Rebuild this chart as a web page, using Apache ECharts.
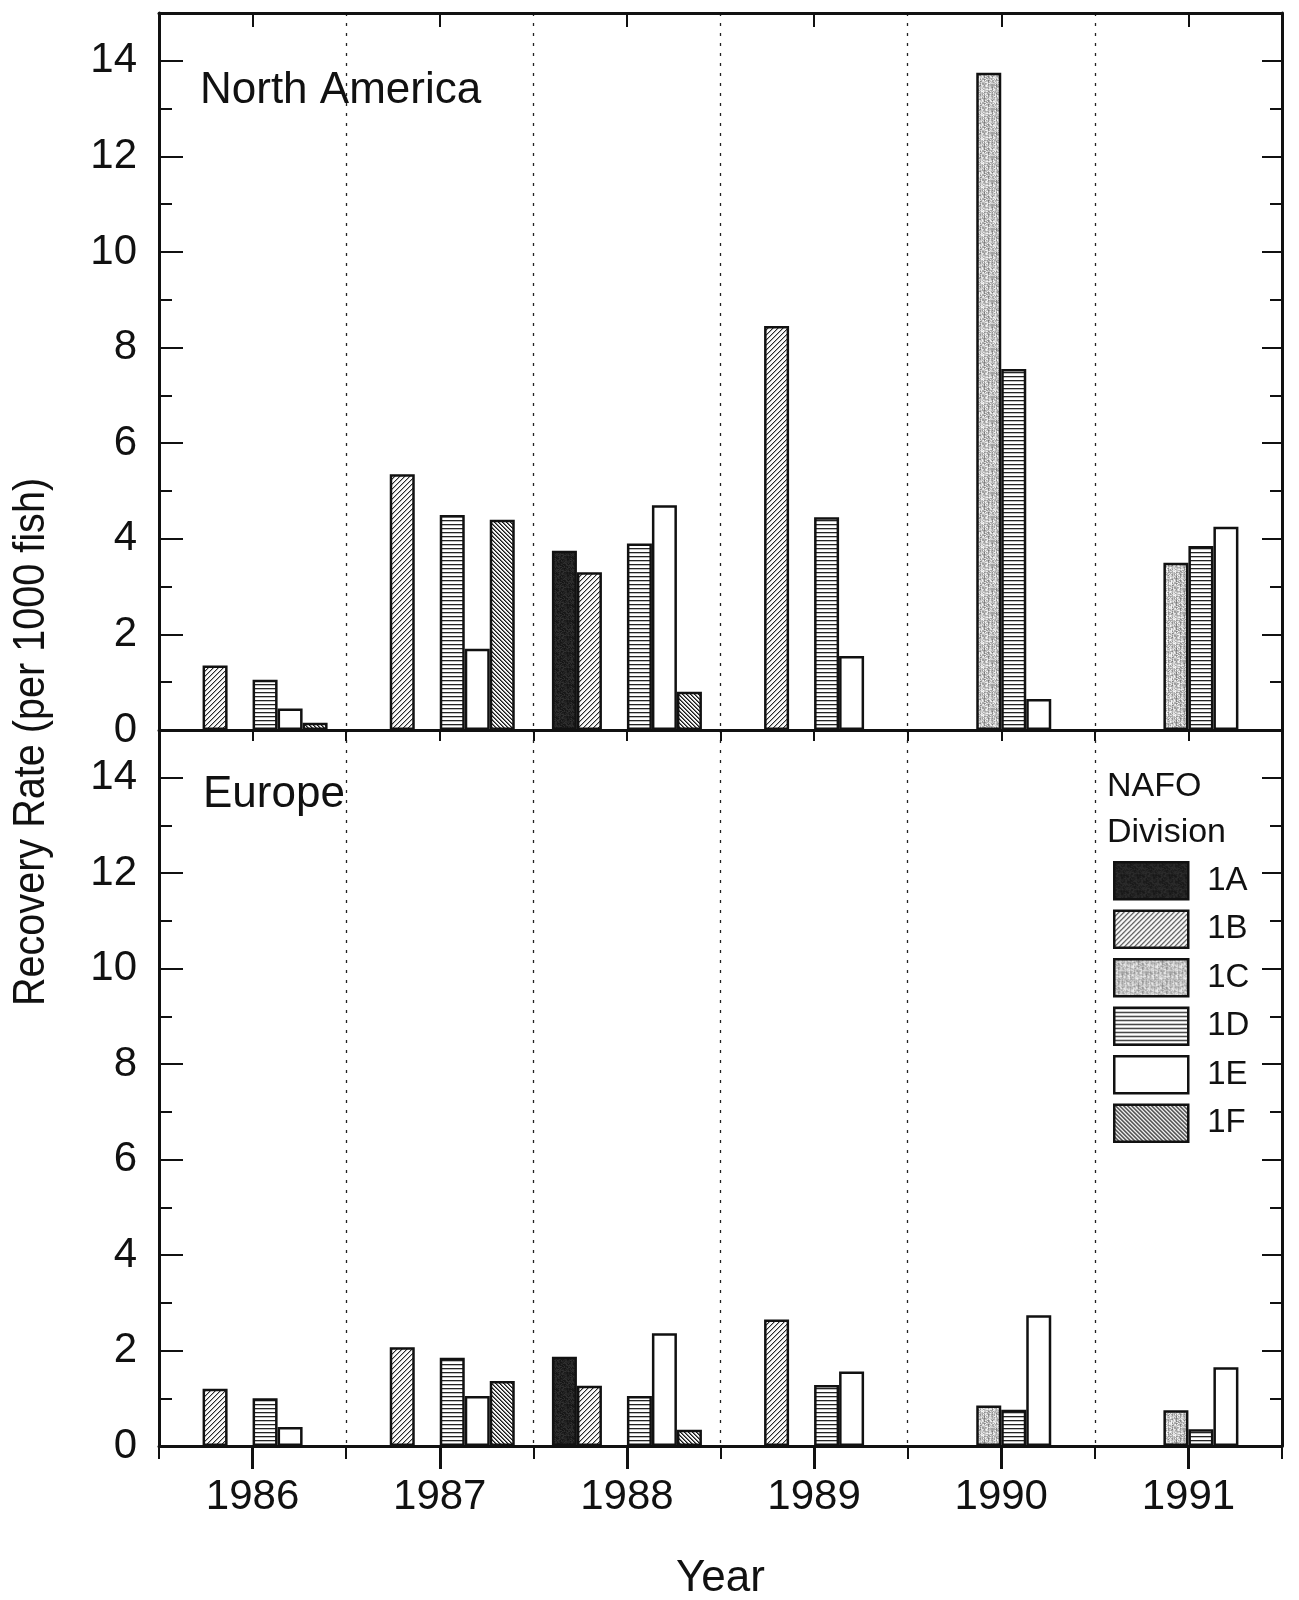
<!DOCTYPE html>
<html>
<head>
<meta charset="utf-8">
<script src="https://cdn.jsdelivr.net/npm/echarts@6/dist/echarts.min.js"></script>
<style>
  html, body { margin: 0; padding: 0; background: #fff; }
  #chart { width: 1299px; height: 1600px; }
</style>
</head>
<body>
<div id="chart"></div>
<script>
// ---- data: recovery rate (per 1000 fish) by year and NAFO division; '-' = none
const years = ['1986', '1987', '1988', '1989', '1990', '1991'];
const divisions = ['1A', '1B', '1C', '1D', '1E', '1F'];

const northAmerica1A = ['-', '-', 3.75, '-', '-', '-'];
const northAmerica1B = [1.35, 5.35, 3.3, 8.45, '-', '-'];
const northAmerica1C = ['-', '-', '-', '-', 13.75, 3.5];
const northAmerica1D = [1.05, 4.5, 3.9, 4.45, 7.55, 3.85];
const northAmerica1E = [0.45, 1.7, 4.7, 1.55, 0.65, 4.25];
const northAmerica1F = [0.15, 4.4, 0.8, '-', '-', '-'];

const europe1A = ['-', '-', 1.87, '-', '-', '-'];
const europe1B = [1.2, 2.07, 1.26, 2.65, '-', '-'];
const europe1C = ['-', '-', '-', '-', 0.85, 0.75];
const europe1D = [1.0, 1.85, 1.05, 1.28, 0.76, 0.35];
const europe1E = [0.4, 1.05, 2.36, 1.56, 2.74, 1.65];
const europe1F = ['-', 1.36, 0.34, '-', '-', '-'];

const yMin = 0;
const yMax = 15;
const yLabelStep = 2;

const panels = [
  { title: 'North America', values: [northAmerica1A, northAmerica1B, northAmerica1C, northAmerica1D, northAmerica1E, northAmerica1F] },
  { title: 'Europe', values: [europe1A, europe1B, europe1C, europe1D, europe1E, europe1F] }
];

// ---- fill patterns (small pixel tiles repeated inside each bar)
const INK = '#111';
const FONT = '"Liberation Sans", Arial, Helvetica, sans-serif';

function pixelTile(w, h, shade) {
  const c = document.createElement('canvas');
  c.width = w; c.height = h;
  const ctx = c.getContext('2d');
  const img = ctx.createImageData(w, h);
  for (let y = 0; y < h; y++) {
    for (let x = 0; x < w; x++) {
      const v = shade(x, y);
      const i = (y * w + x) * 4;
      img.data[i] = v; img.data[i + 1] = v; img.data[i + 2] = v; img.data[i + 3] = 255;
    }
  }
  ctx.putImageData(img, 0, 0);
  return { image: c, repeat: 'repeat' };
}
function grain(x, y) {
  const s = Math.sin(x * 12.9898 + y * 78.233) * 43758.5453;
  return s - Math.floor(s);
}
const fills = {
  '1A': pixelTile(16, 16, (x, y) => 20 + Math.round(grain(x, y) * 30)),
  '1B': pixelTile(5, 5, (x, y) => { const k = (x + y) % 5; return k === 0 ? 40 : (k === 1 ? 175 : 250); }),
  '1C': pixelTile(24, 24, (x, y) => {
    const n = grain(x, y);
    const streak = (x % 4 === 0) ? -35 : 0;
    return Math.max(90, Math.min(245, Math.round(155 + n * 95 + streak)));
  }),
  '1D': pixelTile(4, 4, (x, y) => (y === 0 ? 35 : (y === 1 ? 190 : 255))),
  '1E': '#ffffff',
  '1F': pixelTile(4, 4, (x, y) => { const k = (x - y + 8) % 4; return k === 0 ? 25 : (k === 1 ? 110 : 245); })
};

// ---- axes
function yAxesFor(grid) {
  const base = { type: 'value', gridIndex: grid, min: yMin, max: yMax, splitLine: { show: false } };
  const tickStyle = { color: INK, width: 2 };
  return [
    Object.assign({}, base, {
      position: 'left', interval: yLabelStep,
      axisLine: { show: true, onZero: false, lineStyle: { color: INK, width: 3 } },
      axisTick: { show: true, inside: true, length: 24, lineStyle: tickStyle },
      axisLabel: {
        show: true, margin: 22, fontSize: 42, color: INK, fontFamily: FONT,
        showMaxLabel: false,
        formatter: v => (v > 14 ? '' : String(v))
      }
    }),
    Object.assign({}, base, {
      position: 'left', interval: 1,
      axisLine: { show: false },
      axisTick: { show: true, inside: true, length: 13, lineStyle: tickStyle },
      axisLabel: { show: false }
    }),
    Object.assign({}, base, {
      position: 'right', interval: yLabelStep,
      axisLine: { show: true, onZero: false, lineStyle: { color: INK, width: 3 } },
      axisTick: { show: true, inside: true, length: 20, lineStyle: tickStyle },
      axisLabel: { show: false }
    }),
    Object.assign({}, base, {
      position: 'right', interval: 1,
      axisLine: { show: false },
      axisTick: { show: true, inside: true, length: 12, lineStyle: tickStyle },
      axisLabel: { show: false }
    })
  ];
}

function xAxisFor(grid, position, extra) {
  return Object.assign({
    type: 'category', gridIndex: grid, data: years, position: position, boundaryGap: true,
    axisLine: { show: false, onZero: false },
    axisTick: { show: false },
    axisLabel: { show: false },
    splitLine: { show: false }
  }, extra);
}
const dotted = { show: true, interval: 0, lineStyle: { color: '#222', width: 1.3, type: [3, 7] } };
const frameLine = { show: true, onZero: false, lineStyle: { color: INK, width: 3 } };

const xAxes = [
  // upper panel: base line with ticks at year centres
  xAxisFor(0, 'bottom', { axisLine: frameLine, axisTick: { show: true, interval: 0, alignWithLabel: true, length: 11, lineStyle: { color: INK, width: 2 } } }),
  // upper panel: year boundaries (ticks + dotted separators)
  xAxisFor(0, 'bottom', { axisTick: { show: true, interval: 0, length: 11, lineStyle: { color: INK, width: 2 } }, splitLine: dotted }),
  // upper panel: top frame
  xAxisFor(0, 'top', { axisLine: frameLine, axisTick: { show: true, interval: 0, inside: true, alignWithLabel: true, length: 14, lineStyle: { color: INK, width: 2 } } }),
  // lower panel: labelled year axis
  xAxisFor(1, 'bottom', {
    axisLine: frameLine,
    axisTick: { show: true, interval: 0, alignWithLabel: true, length: 23, lineStyle: { color: INK, width: 3 } },
    axisLabel: { show: true, interval: 0, margin: 30, fontSize: 42, color: INK, fontFamily: FONT },
    name: 'Year', nameLocation: 'middle', nameGap: 111,
    nameTextStyle: { fontSize: 44, color: INK, fontFamily: FONT }
  }),
  // lower panel: year boundaries
  xAxisFor(1, 'bottom', { axisTick: { show: true, interval: 0, length: 13, lineStyle: { color: INK, width: 2 } }, splitLine: dotted })
];

// ---- series
const series = [];
panels.forEach((panel, p) => {
  divisions.forEach((div, d) => {
    series.push({
      type: 'bar',
      name: div,
      xAxisIndex: p === 0 ? 0 : 3,
      yAxisIndex: p * 4,
      data: panel.values[d],
      barWidth: 25,
      barGap: '0%',
      silent: true,
      itemStyle: { color: fills[div], borderColor: INK, borderWidth: 2.5 }
    });
  });
});

const chart = echarts.init(document.getElementById('chart'), null, { renderer: 'canvas' });
chart.setOption({
  animation: false,
  backgroundColor: '#ffffff',
  grid: [
    { left: 159, top: 13, width: 1123, height: 717, outerBoundsMode: 'none' },
    { left: 159, top: 730, width: 1123, height: 716, outerBoundsMode: 'none' }
  ],
  title: [
    { text: panels[0].title, left: 200, top: 69, padding: 0, textStyle: { fontSize: 44, fontWeight: 'normal', color: INK, fontFamily: FONT } },
    { text: panels[1].title, left: 203, top: 773, padding: 0, textStyle: { fontSize: 44, fontWeight: 'normal', color: INK, fontFamily: FONT } },
    { text: 'NAFO\nDivision', left: 1107, top: 764, padding: 0, textStyle: { fontSize: 34, lineHeight: 46, fontWeight: 'normal', color: INK, fontFamily: FONT } }
  ],
  legend: {
    orient: 'vertical',
    left: 1113,
    top: 861,
    padding: 0,
    itemWidth: 74,
    itemHeight: 37,
    itemGap: 9,
    selectedMode: false,
    icon: 'rect',
    textStyle: { fontSize: 33, color: INK, fontFamily: FONT, padding: [0, 0, 0, 14] },
    data: divisions.map(div => ({ name: div, itemStyle: { color: fills[div], borderColor: INK, borderWidth: 2.5 } }))
  },
  graphic: [
    {
      type: 'text',
      x: 32, y: 742,
      rotation: Math.PI / 2,
      scaleX: 0.9,
      style: {
        text: 'Recovery Rate (per 1000 fish)',
        font: '44px ' + FONT,
        fill: INK,
        align: 'center',
        verticalAlign: 'middle'
      }
    }
  ],
  xAxis: xAxes,
  yAxis: yAxesFor(0).concat(yAxesFor(1)),
  series: series
});
</script>
</body>
</html>
